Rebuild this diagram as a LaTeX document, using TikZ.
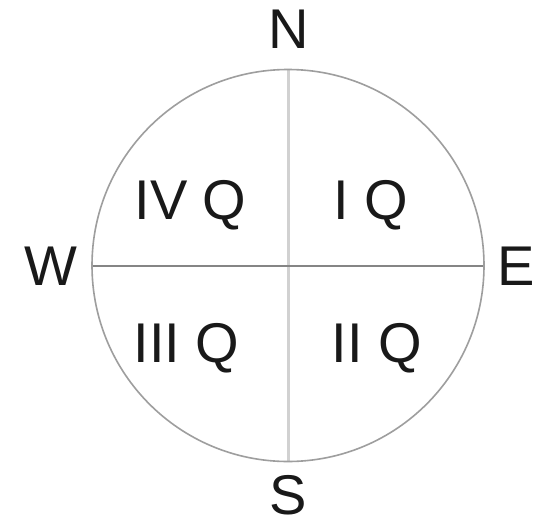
\documentclass[tikz,border=0pt]{standalone}
\usepackage{fontspec}
\setmainfont{Liberation Sans}
\begin{document}
\begin{tikzpicture}[x=1pt,y=-1pt,
  lbl/.style={font=\fontsize{56}{60}\selectfont, inner sep=0pt, anchor=base, text=black!90},
  rim/.style={draw=black!38, line width=1.6pt},
  vline/.style={draw=black!18, line width=3pt},
  hline/.style={draw=black!48, line width=2pt}]
\useasboundingbox[fill=white] (0,0) rectangle (538,522);
\coordinate (c) at (288,265.5);
\coordinate (top) at (288,69);
\coordinate (bot) at (288,462);
\coordinate (lft) at (92,265.5);
\coordinate (rgt) at (484,265.5);
\draw[vline] (top) -- (bot);
\draw[hline] (lft) -- (rgt);
\draw[rim] (c) circle[radius=196];
\node[lbl] (N) at (289,48) {N};
\node[lbl, text depth=0pt] (S) at (288,514) {S};
\node[lbl] (W) at (51,285) {W};
\node[lbl] (E) at (516,285) {E};
\node[lbl] (q4) at (190.5,219) {IV Q};
\node[lbl] (q1) at (370.5,219) {I Q};
\node[lbl] (q3) at (186.5,362) {III Q};
\node[lbl] (q2) at (377,362) {II Q};
\end{tikzpicture}
\end{document}
